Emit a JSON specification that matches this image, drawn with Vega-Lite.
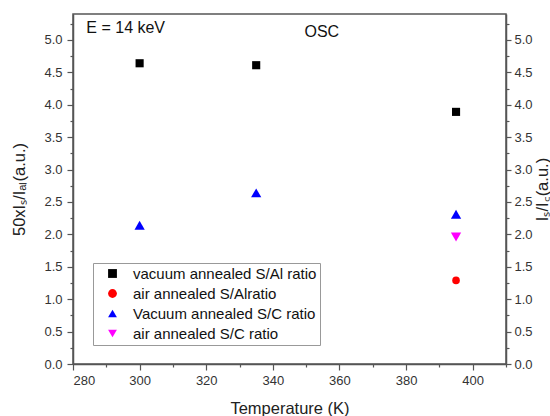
{
  "$schema": "https://vega.github.io/schema/vega-lite/v6.json",
  "width": 433,
  "height": 350,
  "autosize": "none",
  "padding": {"left": 73, "top": 14, "right": 44, "bottom": 52},
  "background": "white",
  "config": {
    "font": "Liberation Sans",
    "view": {"stroke": "#555", "strokeWidth": 1.5},
    "axis": {"labelFont": "Liberation Sans", "titleFont": "Liberation Sans", "labelColor": "#333", "titleColor": "#222", "domainColor": "#555", "tickColor": "#555", "domainWidth": 1.5, "tickWidth": 1.2, "grid": false, "labelFontSize": 13, "titleFontSize": 16.5, "titleFontWeight": "normal"}
  },
  "datasets": {
    "pts": [
      {"T": 300, "v": 4.64, "series": "vacuum annealed S/Al ratio"},
      {"T": 335, "v": 4.61, "series": "vacuum annealed S/Al ratio"},
      {"T": 395, "v": 3.89, "series": "vacuum annealed S/Al ratio"},
      {"T": 395, "v": 1.29, "series": "air annealed S/Alratio"},
      {"T": 300, "v": 2.14, "series": "Vacuum annealed S/C ratio"},
      {"T": 335, "v": 2.64, "series": "Vacuum annealed S/C ratio"},
      {"T": 395, "v": 2.31, "series": "Vacuum annealed S/C ratio"},
      {"T": 395, "v": 1.96, "series": "air annealed S/C ratio"}
    ],
    "notes": [
      {"T": 284, "v": 5.19, "label": "E = 14 keV"},
      {"T": 349.5, "v": 5.12, "label": "OSC"}
    ]
  },
  "resolve": {"axis": {"x": "independent", "y": "independent"}},
  "layer": [
    {
      "data": {"name": "pts"},
      "transform": [{"filter": "datum.series === 'vacuum annealed S/Al ratio'"}],
      "mark": {"type": "point", "filled": true, "opacity": 1, "size": 66},
      "encoding": {
        "x": {"field": "T", "type": "quantitative", "scale": {"domain": [280, 410], "nice": false, "zero": false},
          "axis": {"orient": "bottom", "title": "Temperature (K)", "values": [280, 300, 320, 340, 360, 380, 400], "tickSize": 6, "labelPadding": 4, "titlePadding": 13}},
        "y": {"field": "v", "type": "quantitative", "scale": {"domain": [0, 5.4], "nice": false},
          "axis": {"orient": "left", "title": "50xIₛ/Iₐₗ(a.u.)", "values": [0, 0.5, 1, 1.5, 2, 2.5, 3, 3.5, 4, 4.5, 5], "format": ".1f", "tickSize": 6, "labelPadding": 5, "titlePadding": 16}},
        "color": {"field": "series", "type": "nominal",
          "scale": {"domain": ["vacuum annealed S/Al ratio", "air annealed S/Alratio", "Vacuum annealed S/C ratio", "air annealed S/C ratio"], "range": ["#000000", "#ff0000", "#0000ff", "#ff00ff"]},
          "legend": {"title": null, "orient": "none", "legendX": 20, "legendY": 249, "strokeColor": "#999", "padding": 3, "symbolOffset": 9, "symbolSize": 78, "labelFontSize": 15, "labelColor": "#111", "labelFont": "Liberation Sans", "rowPadding": 4, "labelOffset": 13, "labelLimit": 400, "fillColor": "white"}},
        "shape": {"field": "series", "type": "nominal",
          "scale": {"domain": ["vacuum annealed S/Al ratio", "air annealed S/Alratio", "Vacuum annealed S/C ratio", "air annealed S/C ratio"], "range": ["square", "circle", "triangle-up", "triangle-down"]}}
      }
    },
    {
      "data": {"name": "pts"},
      "transform": [{"filter": "datum.series === 'air annealed S/Alratio'"}],
      "mark": {"type": "point", "filled": true, "opacity": 1, "size": 58},
      "encoding": {
        "x": {"field": "T", "type": "quantitative", "axis": null},
        "y": {"field": "v", "type": "quantitative", "axis": null},
        "color": {"field": "series", "type": "nominal"},
        "shape": {"field": "series", "type": "nominal"}
      }
    },
    {
      "data": {"name": "pts"},
      "transform": [{"filter": "datum.series === 'Vacuum annealed S/C ratio' || datum.series === 'air annealed S/C ratio'"}],
      "mark": {"type": "point", "filled": true, "opacity": 1, "size": 105},
      "encoding": {
        "x": {"field": "T", "type": "quantitative", "axis": null},
        "y": {"field": "v", "type": "quantitative", "axis": null},
        "color": {"field": "series", "type": "nominal"},
        "shape": {"field": "series", "type": "nominal"}
      }
    },
    {
      "data": {"name": "pts"},
      "mark": {"type": "point", "opacity": 0},
      "encoding": {
        "x": {"field": "T", "type": "quantitative", "axis": {"orient": "bottom", "title": null, "values": [290, 310, 330, 350, 370, 390, 410], "labels": false, "tickSize": 3, "domain": false}},
        "y": {"field": "v", "type": "quantitative", "axis": {"orient": "right", "title": "Iₛ/I꜀(a.u.)", "titleAngle": 270, "values": [0, 0.5, 1, 1.5, 2, 2.5, 3, 3.5, 4, 4.5, 5], "format": ".1f", "tickSize": 5, "labelPadding": 3, "titlePadding": 18}}
      }
    },
    {
      "data": {"name": "pts"},
      "mark": {"type": "point", "opacity": 0},
      "encoding": {
        "x": {"field": "T", "type": "quantitative", "axis": null},
        "y": {"field": "v", "type": "quantitative", "axis": {"orient": "left", "title": null, "values": [0.25, 0.75, 1.25, 1.75, 2.25, 2.75, 3.25, 3.75, 4.25, 4.75, 5.25], "labels": false, "tickSize": 3, "domain": false}}
      }
    },
    {
      "data": {"name": "pts"},
      "mark": {"type": "point", "opacity": 0},
      "encoding": {
        "x": {"field": "T", "type": "quantitative", "axis": null},
        "y": {"field": "v", "type": "quantitative", "axis": {"orient": "right", "title": null, "values": [0.25, 0.75, 1.25, 1.75, 2.25, 2.75, 3.25, 3.75, 4.25, 4.75, 5.25], "labels": false, "tickSize": 3, "domain": false}}
      }
    },
    {
      "data": {"name": "notes"},
      "mark": {"type": "text", "align": "left", "baseline": "middle", "fontSize": 16, "font": "Liberation Sans", "color": "#111"},
      "encoding": {
        "x": {"field": "T", "type": "quantitative", "axis": null},
        "y": {"field": "v", "type": "quantitative", "axis": null},
        "text": {"field": "label", "type": "nominal"}
      }
    }
  ]
}
